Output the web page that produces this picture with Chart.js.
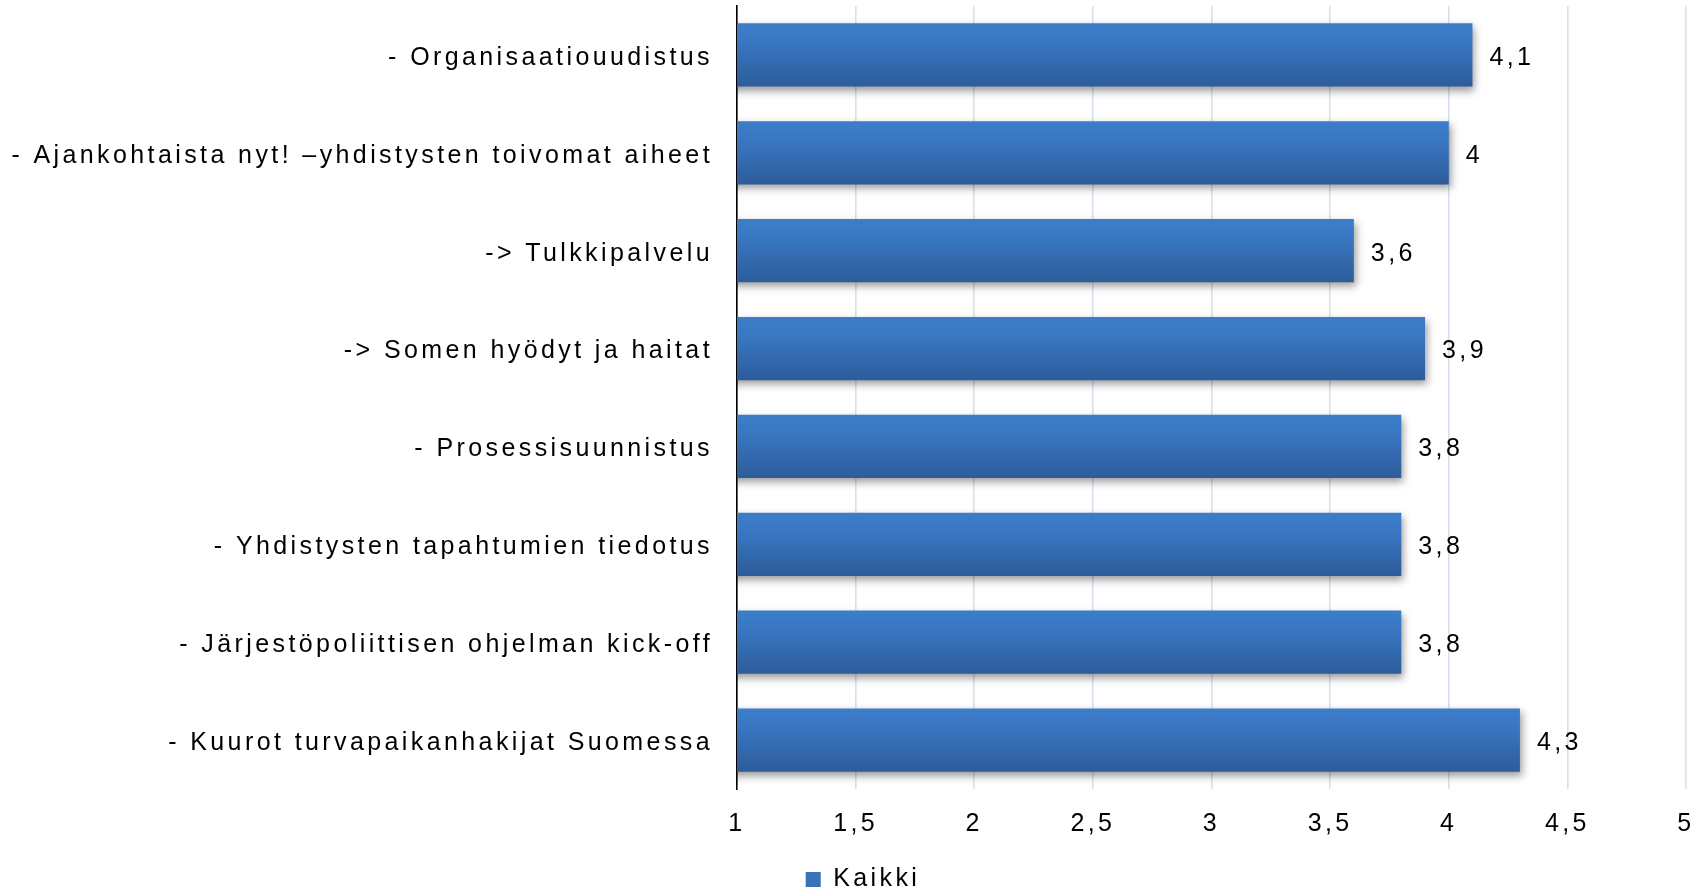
<!DOCTYPE html>
<html>
<head>
<meta charset="utf-8">
<script src="https://cdn.jsdelivr.net/npm/chart.js@4.4.0/dist/chart.umd.min.js"></script>
<style>
  html, body { margin: 0; padding: 0; background: #ffffff; }
  #wrap { width: 1707px; height: 888px; position: relative; }
</style>
</head>
<body>
<div id="wrap"><canvas id="c"></canvas></div>
<script>
// ---- Data ----
const categories = [
  '- Organisaatiouudistus',
  '- Ajankohtaista nyt! \u2013yhdistysten toivomat aiheet',
  '-> Tulkkipalvelu',
  '-> Somen hyödyt ja haitat',
  '- Prosessisuunnistus',
  '- Yhdistysten tapahtumien tiedotus',
  '- Järjestöpoliittisen ohjelman kick-off',
  '- Kuurot turvapaikanhakijat Suomessa'
];
const seriesName = 'Kaikki';
const values = [4.1, 4, 3.6, 3.9, 3.8, 3.8, 3.8, 4.3];
const axisMin = 1;
const axisMax = 5;
const axisStep = 0.5;

// ---- Styling ----
const FONT = "'Liberation Sans', Arial, sans-serif";
const FONT_SIZE = 25;
const LETTER_SPACING = '3.4px';
const BAR_PCT = 0.645;
const fmt = v => String(v).replace('.', ',');

const spacingPlugin = {
  id: 'spacing',
  beforeInit(chart) { chart.ctx.letterSpacing = LETTER_SPACING; },
  beforeUpdate(chart) { chart.ctx.letterSpacing = LETTER_SPACING; },
  beforeLayout(chart) { chart.ctx.letterSpacing = LETTER_SPACING; },
  afterLayout(chart) {
    // nudge legend horizontally to match the reference position
    if (chart.legend) { chart.legend.left += 20; chart.legend.right += 20; }
  },
  beforeDraw(chart) { chart.ctx.letterSpacing = LETTER_SPACING; }
};

const shadowPlugin = {
  id: 'barShadow',
  beforeDatasetDraw(chart) {
    const ctx = chart.ctx;
    ctx.save();
    ctx.shadowColor = 'rgba(0,0,0,0.4)';
    ctx.shadowBlur = 8;
    ctx.shadowOffsetX = 2;
    ctx.shadowOffsetY = 4;
  },
  afterDatasetDraw(chart) {
    chart.ctx.restore();
  }
};

const valueLabelPlugin = {
  id: 'valueLabels',
  afterDatasetsDraw(chart) {
    const ctx = chart.ctx;
    const meta = chart.getDatasetMeta(0);
    ctx.save();
    ctx.letterSpacing = LETTER_SPACING;
    ctx.font = FONT_SIZE + 'px ' + FONT;
    ctx.fillStyle = '#000000';
    ctx.textAlign = 'left';
    ctx.textBaseline = 'middle';
    meta.data.forEach((bar, i) => {
      ctx.fillText(fmt(chart.data.datasets[0].data[i]), bar.x + 17, bar.y + 3);
    });
    ctx.restore();
  }
};

function barGradient(context) {
  const chart = context.chart;
  if (!chart.chartArea) return '#3a78c4';
  const y = chart.scales.y;
  const idx = context.dataIndex;
  if (idx === undefined) return '#3a78c4';
  const c = y.getPixelForValue(idx);
  const h = (y.height / categories.length) * BAR_PCT;
  const g = chart.ctx.createLinearGradient(0, c - h / 2, 0, c + h / 2);
  g.addColorStop(0, 'rgb(60,125,202)');
  g.addColorStop(0.3, 'rgb(57,119,194)');
  g.addColorStop(1, 'rgb(45,92,154)');
  return g;
}

Chart.defaults.font.family = FONT;
Chart.defaults.font.size = FONT_SIZE;
Chart.defaults.color = '#000000';

new Chart(document.getElementById('c'), {
  type: 'bar',
  data: {
    labels: categories,
    datasets: [{
      label: seriesName,
      data: values,
      backgroundColor: barGradient,
      borderWidth: 0,
      barPercentage: BAR_PCT,
      categoryPercentage: 1
    }]
  },
  options: {
    indexAxis: 'y',
    responsive: true,
    maintainAspectRatio: false,
    animation: false,
    layout: { padding: { top: 6, right: 21, left: 0, bottom: -14 } },
    scales: {
      x: {
        min: axisMin,
        max: axisMax,
        ticks: {
          stepSize: axisStep,
          padding: 20,
          color: '#000000',
          font: { size: FONT_SIZE },
          callback: v => fmt(v)
        },
        grid: { color: '#d5e1ef', lineWidth: 1.6, drawTicks: false },
        border: { display: false },
        afterFit(scale) { scale.height = 72; scale.paddingLeft = 0; scale.paddingRight = 0; }
      },
      y: {
        ticks: {
          padding: 24,
          labelOffset: 3,
          color: '#000000',
          font: { size: FONT_SIZE },
          autoSkip: false
        },
        grid: { display: false, drawTicks: false },
        border: { display: true, color: '#000000', width: 1.6 },
        afterFit(scale) {
          scale.width = 737;
          scale.paddingTop = 0;
          scale.paddingBottom = 0;
        }
      }
    },
    plugins: {
      legend: {
        position: 'bottom',
        labels: {
          boxWidth: 15,
          boxHeight: 15,
          padding: 6,
          color: '#000000',
          font: { size: FONT_SIZE },
          generateLabels(chart) {
            return [{
              text: seriesName,
              fillStyle: 'rgb(55,114,186)',
              strokeStyle: 'rgb(55,114,186)',
              lineWidth: 0,
              hidden: false,
              datasetIndex: 0
            }];
          }
        }
      },
      tooltip: { enabled: false }
    }
  },
  plugins: [spacingPlugin, shadowPlugin, valueLabelPlugin]
});
</script>
</body>
</html>
